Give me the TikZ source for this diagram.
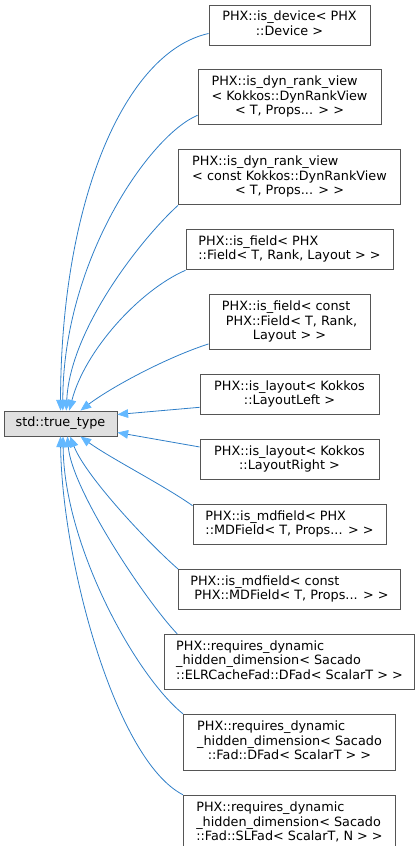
\documentclass[tikz,border=0pt]{standalone}
\usepackage{fontspec}
\setmainfont{DejaVu Sans}
\usepackage{tikz}
\usetikzlibrary{positioning,arrows.meta,calc}
\usepackage{xcolor}
\definecolor{tipblue}{HTML}{63B8FF}
\definecolor{lineblue}{HTML}{2F7FC8}
\definecolor{basegray}{HTML}{E0E0E0}
\definecolor{framegray}{HTML}{555555}
\newcommand{\boxlines}[1]{\begin{tabular}{@{}l@{}}#1\end{tabular}}
\newcommand{\lastline}[1]{\multicolumn{1}{@{}c@{}}{#1}}

\begin{document}
\begin{tikzpicture}[x=0.75pt, y=-0.75pt,
    box/.style={rectangle, draw=framegray, fill=white, line width=0.7pt,
                inner sep=0pt, font=\fontsize{9.6}{10.9}\selectfont},
    boxsize/.style 2 args={minimum width=#1*0.75pt, minimum height=#2*0.75pt},
    base/.style={box, fill=basegray},
    arrow/.style={draw=lineblue, line width=0.6pt,
                  -{Triangle[length=8pt, width=6.5pt, fill=tipblue, color=tipblue]}}
]
    \useasboundingbox (0,0) rectangle (420,846);

    \node[base, boxsize={113}{25}] (base) at (60.5,423.5) {std::true\_type};

    \node[box, boxsize={161}{40}] (isdev) at (289.5,25)
        {\boxlines{PHX::is\_device< PHX\\\lastline{::Device >}}};
    \node[box, boxsize={183}{55}, below=18pt of isdev] (dynrank)
        {\boxlines{PHX::is\_dyn\_rank\_view\\< Kokkos::DynRankView\\\lastline{< T, Props... > >}}};
    \node[box, boxsize={222}{55}, below=18pt of dynrank] (cdynrank)
        {\boxlines{PHX::is\_dyn\_rank\_view\\< const Kokkos::DynRankView\\\lastline{< T, Props... > >}}};
    \node[box, boxsize={207}{40}, below=18pt of cdynrank] (field)
        {\boxlines{PHX::is\_field< PHX\\\lastline{::Field< T, Rank, Layout > >}}};
    \node[box, boxsize={161}{55}, below=18pt of field] (cfield)
        {\boxlines{PHX::is\_field< const\\\ PHX::Field< T, Rank,\\\lastline{Layout > >}}};
    \node[box, boxsize={179}{40}, below=18pt of cfield] (layl)
        {\boxlines{PHX::is\_layout< Kokkos\\\lastline{::LayoutLeft >}}};
    \node[box, boxsize={179}{40}, below=18pt of layl] (layr)
        {\boxlines{PHX::is\_layout< Kokkos\\\lastline{::LayoutRight >}}};
    \node[box, boxsize={193}{40}, below=18pt of layr] (mdf)
        {\boxlines{PHX::is\_mdfield< PHX\\\lastline{::MDField< T, Props... > >}}};
    \node[box, boxsize={222}{40}, below=18pt of mdf] (cmdf)
        {\boxlines{PHX::is\_mdfield< const\\\lastline{\ PHX::MDField< T, Props... > >}}};
    \node[box, boxsize={250}{55}, below=18pt of cmdf] (reqelr)
        {\boxlines{PHX::requires\_dynamic\\\_hidden\_dimension< Sacado\\\lastline{::ELRCacheFad::DFad< ScalarT > >}}};
    \node[box, boxsize={212}{56}, below=18pt of reqelr] (reqdfad)
        {\boxlines{PHX::requires\_dynamic\\\_hidden\_dimension< Sacado\\\lastline{::Fad::DFad< ScalarT > >}}};
    \node[box, boxsize={212}{56}, below=18pt of reqdfad] (reqslfad)
        {\boxlines{PHX::requires\_dynamic\\\_hidden\_dimension< Sacado\\\lastline{::Fad::SLFad< ScalarT, N > >}}};

    % edges into the top of the base
    \draw[arrow] (isdev.186) .. controls (125,52) and (61,200) .. (base.north);
    \draw[arrow] (dynrank.191) .. controls (150,135) and (63,260) .. (base.80);
    \draw[arrow] (cdynrank.south west) .. controls (140,240) and (70,330) .. (base.66);
    \draw[arrow] (field.south west) .. controls (140,290) and (85,350) .. (base.56);
    \draw[arrow] (cfield.195) .. controls (165,358) and (110,388) .. (base.33);
    % edges into the side
    \draw[arrow] (layl.188) -- (base.9);
    \draw[arrow] (layr.172) -- (base.351);
    % edges into the bottom
    \draw[arrow] (mdf.169) .. controls (165,486) and (110,458) .. (base.327);
    \draw[arrow] (cmdf.north west) .. controls (145,540) and (85,475) .. (base.307);
    \draw[arrow] (reqelr.166) .. controls (145,600) and (72,490) .. (base.298);
    \draw[arrow] (reqdfad.north west) .. controls (135,675) and (64,545) .. (base.281);
    \draw[arrow] (reqslfad.north west) .. controls (115,760) and (62,560) .. (base.south);
\end{tikzpicture}
\end{document}
